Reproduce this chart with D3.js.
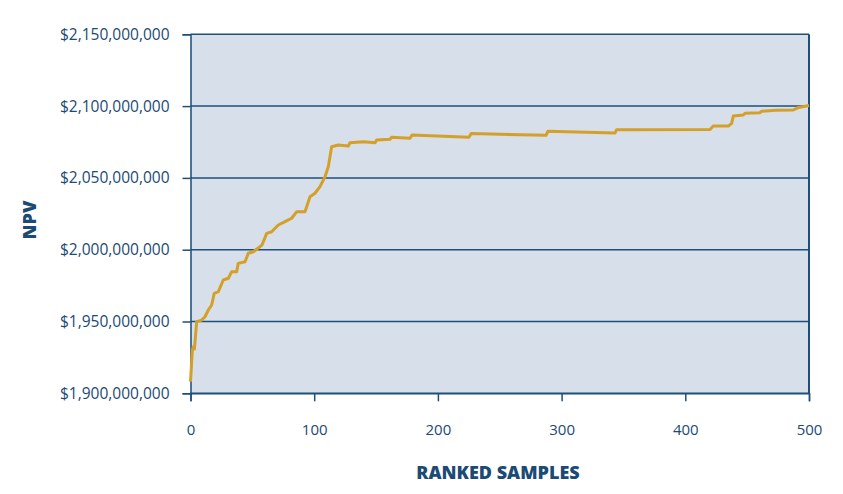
<!DOCTYPE html>
<html>
<head>
<meta charset="utf-8">
<script src="https://cdn.jsdelivr.net/npm/d3@7"></script>
<style>
  html, body { margin: 0; padding: 0; background: #ffffff; }
  svg { display: block; }
</style>
</head>
<body>
<script>
// ---- data ----
const sampleRank = [0, 1.5, 2.4, 3.2, 5.0, 9.1, 11.7, 14.4, 17.1, 19.2, 22.5, 26.5, 30.6, 33.3, 37.3, 38.6, 44.1, 46.7, 50.8, 56.2, 57.8, 61.6, 65.6, 71.0, 76.4, 81.8, 85.9, 92.6, 96.6, 100.6, 104.7, 108.7, 111.4, 114.1, 119.5, 127.6, 128.9, 139.7, 149.2, 150.5, 161.3, 162.6, 177.4, 179.1, 225.1, 226.9, 287.4, 289.0, 343.2, 344.5, 420.0, 422.6, 434.8, 437.5, 438.8, 446.9, 448.3, 460.4, 461.8, 473.3, 487.3, 490.7, 500];
const npvMillions = [1908.1, 1930.2, 1932.5, 1930.8, 1949.9, 1951.0, 1953.3, 1958.0, 1961.5, 1969.6, 1970.8, 1978.9, 1980.1, 1984.7, 1984.7, 1990.5, 1991.6, 1997.5, 1998.6, 2002.1, 2003.3, 2011.4, 2012.5, 2017.2, 2019.5, 2021.9, 2026.5, 2026.5, 2036.9, 2039.3, 2043.9, 2050.8, 2057.8, 2071.7, 2072.9, 2072.2, 2074.5, 2075.2, 2074.5, 2076.4, 2076.9, 2078.3, 2077.6, 2079.8, 2078.3, 2080.9, 2079.7, 2082.5, 2081.3, 2083.6, 2083.7, 2086.1, 2086.1, 2088.0, 2093.1, 2093.8, 2095.0, 2095.4, 2096.4, 2097.1, 2097.3, 2098.8, 2100.4];
const xTicks = [0, 100, 200, 300, 400, 500];
const yTicks = [1900000000, 1950000000, 2000000000, 2050000000, 2100000000, 2150000000];
const xTitle = "RANKED SAMPLES";
const yTitle = "NPV";

// ---- layout ----
const W = 843, H = 494;
const plot = { left: 190.5, right: 809, top: 34.3, bottom: 393.3 };
const navy = "#1d4f7c";
const textCol = "#1b4a75";
const bg = "#d6dfea";
const lineCol = "#d4a02a";

const svg = d3.select("body").append("svg").attr("width", W).attr("height", H);

const x = d3.scaleLinear().domain([0, 500]).range([plot.left, plot.right]);
const y = d3.scaleLinear().domain([1900000000, 2150000000]).range([plot.bottom, plot.top]);

// background
svg.append("rect")
  .attr("x", plot.left).attr("y", plot.top)
  .attr("width", plot.right - plot.left).attr("height", plot.bottom - plot.top)
  .attr("fill", bg);

// grid lines
svg.append("g").selectAll("line").data(yTicks).join("line")
  .attr("x1", plot.left).attr("x2", plot.right)
  .attr("y1", d => y(d)).attr("y2", d => y(d))
  .attr("stroke", navy).attr("stroke-width", 1.5);

const fmt = d => "$" + d3.format(",")(d);

// y axis
const yAxis = svg.append("g")
  .attr("transform", `translate(${plot.left},0)`)
  .call(d3.axisLeft(y).tickValues(yTicks).tickFormat(fmt).tickSize(8).tickPadding(13));
yAxis.select(".domain").attr("stroke", navy).attr("stroke-width", 1.5);
yAxis.selectAll(".tick line").attr("stroke", navy).attr("stroke-width", 1.5);
yAxis.selectAll(".tick text")
  .attr("fill", textCol)
  .style("font-family", "'Open Sans', sans-serif")
  .style("font-size", "15.5px");

// x axis
const xAxis = svg.append("g")
  .attr("transform", `translate(0,${plot.bottom})`)
  .call(d3.axisBottom(x).tickValues(xTicks).tickFormat(d3.format("d")).tickSize(8).tickPadding(23));
xAxis.select(".domain").attr("stroke", navy).attr("stroke-width", 1.5);
xAxis.selectAll(".tick line").attr("stroke", navy).attr("stroke-width", 1.5);
xAxis.selectAll(".tick text")
  .attr("fill", textCol)
  .style("font-family", "'Open Sans', sans-serif")
  .style("font-size", "15px");

// right border
svg.append("line")
  .attr("x1", plot.right).attr("x2", plot.right)
  .attr("y1", plot.top).attr("y2", plot.bottom)
  .attr("stroke", navy).attr("stroke-width", 2);

// data line
const pts = sampleRank.map((r, i) => [r, npvMillions[i] * 1e6]);
svg.append("path")
  .datum(pts)
  .attr("fill", "none")
  .attr("stroke", lineCol)
  .attr("stroke-width", 3)
  .attr("stroke-linejoin", "round")
  .attr("d", d3.line().x(d => x(d[0])).y(d => y(d[1])));

// titles
svg.append("text")
  .attr("x", 498).attr("y", 479)
  .attr("text-anchor", "middle")
  .attr("fill", textCol)
  .style("font-family", "'Open Sans', sans-serif")
  .style("font-weight", "800")
  .style("font-size", "18px")
  .text(xTitle);

svg.append("text")
  .attr("transform", "translate(36,220) rotate(-90)")
  .attr("text-anchor", "middle")
  .attr("fill", textCol)
  .style("font-family", "'Open Sans', sans-serif")
  .style("font-weight", "800")
  .style("font-size", "18px")
  .text(yTitle);
</script>
</body>
</html>
